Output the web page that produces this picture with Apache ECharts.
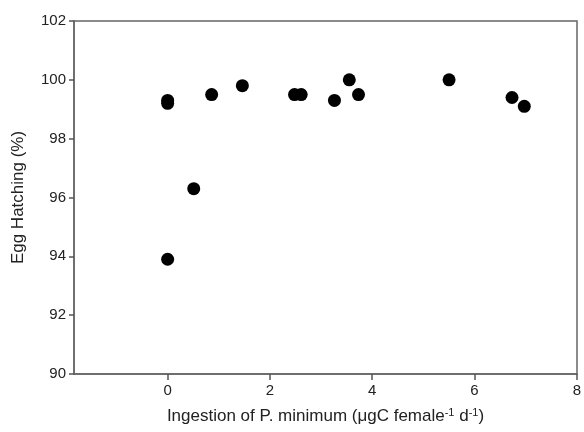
<!DOCTYPE html>
<html><head><meta charset="utf-8">
<script src="https://cdn.jsdelivr.net/npm/echarts@6/dist/echarts.min.js"></script>
<style>html,body{margin:0;padding:0;background:#fff}#c{width:584px;height:432px}</style>
</head><body><div id="c"></div>
<script>
const ingestion = [0, 0, 0, 0.51, 0.86, 1.46, 2.48, 2.61, 3.26, 3.55, 3.73, 5.50, 6.73, 6.97];
const hatching  = [99.3, 99.2, 93.9, 96.3, 99.5, 99.8, 99.5, 99.5, 99.3, 100.0, 99.5, 100.0, 99.4, 99.1];
const xMin = -1.83, xMax = 8;
const xTickMin = 0, xTickStep = 2;

const W = 584, L = 74, R = 7;
const scale = (W - L - R) / (xMax - xMin);
const tickGridLeft = L + (xTickMin - xMin) * scale;

const chart = echarts.init(document.getElementById('c'), null, {renderer: 'canvas'});
const font = 'Liberation Sans, Arial, sans-serif';
const axisColor = '#666';
chart.setOption({
  animation: false,
  grid: [
    {left: L, right: R, top: 21, bottom: 58, show: true, borderColor: axisColor, borderWidth: 1.5, backgroundColor: 'transparent'},
    {left: tickGridLeft, right: R, top: 21, bottom: 58, show: false}
  ],
  xAxis: [{
    gridIndex: 0, type: 'value', min: xMin, max: xMax,
    name: 'Ingestion of P. minimum (μgC female{s|-1} d{s|-1})',
    nameLocation: 'middle', nameGap: 33,
    nameTextStyle: {fontFamily: font, fontSize: 17, color: '#222', rich: {s: {fontFamily: font, fontSize: 11, color: '#222', verticalAlign: 'top', padding: [0,0,8,0]}}},
    splitLine: {show: false},
    axisLine: {show: true, onZero: false, lineStyle: {color: axisColor, width: 1.5}},
    axisTick: {show: false},
    axisLabel: {show: false}
  }, {
    gridIndex: 1, type: 'value', min: xTickMin, max: xMax, interval: xTickStep,
    position: 'bottom',
    splitLine: {show: false},
    axisLine: {show: true, onZero: false, lineStyle: {color: 'rgba(0,0,0,0)', width: 1.5}},
    axisTick: {show: true, inside: false, length: 6, lineStyle: {color: '#555', width: 1.5, opacity: 1}},
    axisLabel: {fontFamily: font, fontSize: 15, color: '#222', margin: 9}
  }],
  yAxis: [{
    gridIndex: 0, type: 'value', min: 90, max: 102, interval: 2,
    name: 'Egg Hatching (%)', nameLocation: 'middle', nameGap: 47, nameRotate: 90,
    nameTextStyle: {fontFamily: font, fontSize: 17, color: '#222'},
    splitLine: {show: false},
    axisLine: {show: true, onZero: false, lineStyle: {color: axisColor, width: 1.5}},
    axisTick: {show: true, inside: false, length: 5, lineStyle: {color: '#555', width: 1.5}},
    axisLabel: {fontFamily: font, fontSize: 15, color: '#222', margin: 8}
  }, {
    gridIndex: 1, type: 'value', min: 90, max: 102, show: false
  }],
  series: [{
    type: 'scatter', xAxisIndex: 0, yAxisIndex: 0,
    data: ingestion.map((x, i) => [x, hatching[i]]),
    symbol: 'circle', symbolSize: 13,
    itemStyle: {color: '#000', opacity: 1}
  }]
});
</script></body></html>
